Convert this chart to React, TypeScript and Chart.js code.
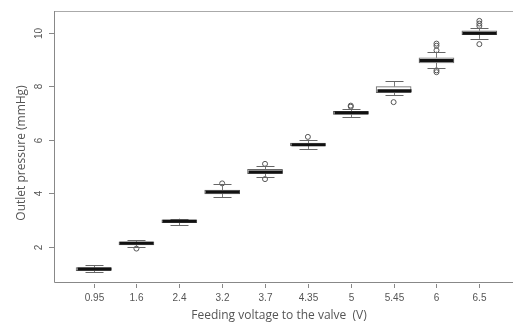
import React, { useEffect, useRef } from "react";
import { Chart, registerables } from "chart.js";

Chart.register(...registerables);

const categories = ["0.95", "1.6", "2.4", "3.2", "3.7", "4.35", "5", "5.45", "6", "6.5"];
const whiskerLow = [1.04, 1.99, 2.81, 3.85, 4.62, 5.66, 6.85, 7.67, 8.68, 9.78];
const q1 = [1.1, 2.07, 2.9, 3.98, 4.73, 5.77, 6.95, 7.76, 8.88, 9.93];
const median = [1.165, 2.13, 2.95, 4.05, 4.8, 5.82, 7.01, 7.84, 8.97, 9.99];
const q3 = [1.22, 2.18, 3.01, 4.12, 4.9, 5.88, 7.07, 7.99, 9.07, 10.08];
const whiskerHigh = [1.31, 2.24, 3.05, 4.35, 5.03, 6.0, 7.15, 8.2, 9.3, 10.2];
const outliers: number[][] = [
  [],
  [1.93],
  [],
  [4.37],
  [5.1, 4.53],
  [6.11],
  [7.24, 7.28],
  [7.41],
  [9.6, 9.52, 9.35, 8.6, 8.53],
  [10.45, 10.35, 10.26, 9.58],
];
const yTicks = [2, 4, 6, 8, 10];
const xTitle = "Feeding voltage to the valve  (V)";
const yTitle = "Outlet pressure (mmHg)";

const boxPlugin = {
  id: "boxExtras",
  afterDatasetsDraw(chart: any) {
    const ctx = chart.ctx;
    const xs = chart.scales.x;
    const ys = chart.scales.y;
    const area = chart.chartArea;
    ctx.save();
    // whiskers, caps, medians
    for (let i = 0; i < categories.length; i++) {
      const cx = Math.round(xs.getPixelForValue(i + 1)) + 0.5;
      const yLo = ys.getPixelForValue(whiskerLow[i]);
      const yQ1 = ys.getPixelForValue(q1[i]);
      const yQ3 = ys.getPixelForValue(q3[i]);
      const yHi = ys.getPixelForValue(whiskerHigh[i]);
      const yMed = ys.getPixelForValue(median[i]);
      ctx.strokeStyle = "#777";
      ctx.lineWidth = 1;
      ctx.beginPath();
      ctx.moveTo(cx, yQ3);
      ctx.lineTo(cx, yHi);
      ctx.moveTo(cx, yQ1);
      ctx.lineTo(cx, yLo);
      ctx.stroke();
      ctx.strokeStyle = "#666";
      ctx.beginPath();
      ctx.moveTo(cx - 9, Math.round(yHi) + 0.5);
      ctx.lineTo(cx + 9, Math.round(yHi) + 0.5);
      ctx.moveTo(cx - 9, Math.round(yLo) + 0.5);
      ctx.lineTo(cx + 9, Math.round(yLo) + 0.5);
      ctx.stroke();
      ctx.strokeStyle = "#111";
      ctx.lineWidth = 3;
      ctx.beginPath();
      ctx.moveTo(cx - 17, yMed);
      ctx.lineTo(cx + 17, yMed);
      ctx.stroke();
    }
    // frame
    ctx.lineWidth = 1;
    ctx.strokeStyle = "#aaa";
    ctx.beginPath();
    ctx.moveTo(area.left, area.top + 0.5);
    ctx.lineTo(area.right, area.top + 0.5);
    ctx.stroke();
    ctx.strokeStyle = "#888";
    ctx.beginPath();
    ctx.moveTo(area.left + 0.5, area.top);
    ctx.lineTo(area.left + 0.5, area.bottom + 0.5);
    ctx.lineTo(area.right, area.bottom + 0.5);
    ctx.stroke();
    // y ticks
    ctx.fillStyle = "#555";
    ctx.font = "10px 'Liberation Sans', Arial, sans-serif";
    ctx.textAlign = "center";
    ctx.textBaseline = "middle";
    for (const t of yTicks) {
      const py = Math.round(ys.getPixelForValue(t)) + 0.5;
      ctx.strokeStyle = "#888";
      ctx.beginPath();
      ctx.moveTo(area.left - 5, py);
      ctx.lineTo(area.left, py);
      ctx.stroke();
      ctx.save();
      ctx.translate(area.left - 15, py);
      ctx.rotate(-Math.PI / 2);
      ctx.fillText(String(t), 0, 0);
      ctx.restore();
    }
    // x ticks
    for (let i = 0; i < categories.length; i++) {
      const px = Math.round(xs.getPixelForValue(i + 1)) + 0.5;
      ctx.strokeStyle = "#888";
      ctx.beginPath();
      ctx.moveTo(px, area.bottom + 2);
      ctx.lineTo(px, area.bottom + 6);
      ctx.stroke();
      ctx.fillText(categories[i], px, area.bottom + 16);
    }
    // titles
    ctx.fillStyle = "#555";
    ctx.font = "12px 'Open Sans', sans-serif";
    ctx.fillText(xTitle, 279, area.bottom + 34);
    ctx.save();
    ctx.translate(22, 153);
    ctx.rotate(-Math.PI / 2);
    ctx.fillText(yTitle, 0, 0);
    ctx.restore();
    ctx.restore();
  },
};

export default function App() {
  const ref = useRef<HTMLCanvasElement | null>(null);
  useEffect(() => {
    if (!ref.current) return;
    const boxData = categories.map((_, i) => ({ x: i + 1, y: [q1[i], q3[i]] }));
    const outlierData: { x: number; y: number }[] = [];
    outliers.forEach((arr, i) => arr.forEach((v) => outlierData.push({ x: i + 1, y: v })));
    const chart = new Chart(ref.current, {
      type: "bar",
      data: {
        datasets: [
          {
            type: "bar",
            data: boxData as any,
            backgroundColor: "#fff",
            borderColor: "#666",
            borderWidth: 1,
            borderSkipped: false,
            barThickness: 35,
            grouped: false,
          } as any,
          {
            type: "scatter",
            data: outlierData as any,
            pointStyle: "circle",
            pointRadius: 2.5,
            pointBorderColor: "#555",
            pointBackgroundColor: "rgba(255,255,255,0)",
            pointBorderWidth: 1,
          } as any,
        ],
      },
      options: {
        animation: false,
        responsive: false,
        maintainAspectRatio: false,
        layout: { padding: { left: 54, top: 11, right: 0, bottom: 42 } },
        plugins: { legend: { display: false }, tooltip: { enabled: false } },
        scales: {
          x: { type: "linear", min: 0.077, max: 10.785, offset: false, display: false },
          y: { type: "linear", min: 0.68, max: 10.82, display: false },
        },
      },
      plugins: [boxPlugin],
    });
    return () => chart.destroy();
  }, []);
  return (
    <div style={{ position: "fixed", left: 0, top: 0, width: 518, height: 324, background: "#fff" }}>
      <canvas ref={ref} width={518} height={324} style={{ width: 518, height: 324 }} />
    </div>
  );
}
